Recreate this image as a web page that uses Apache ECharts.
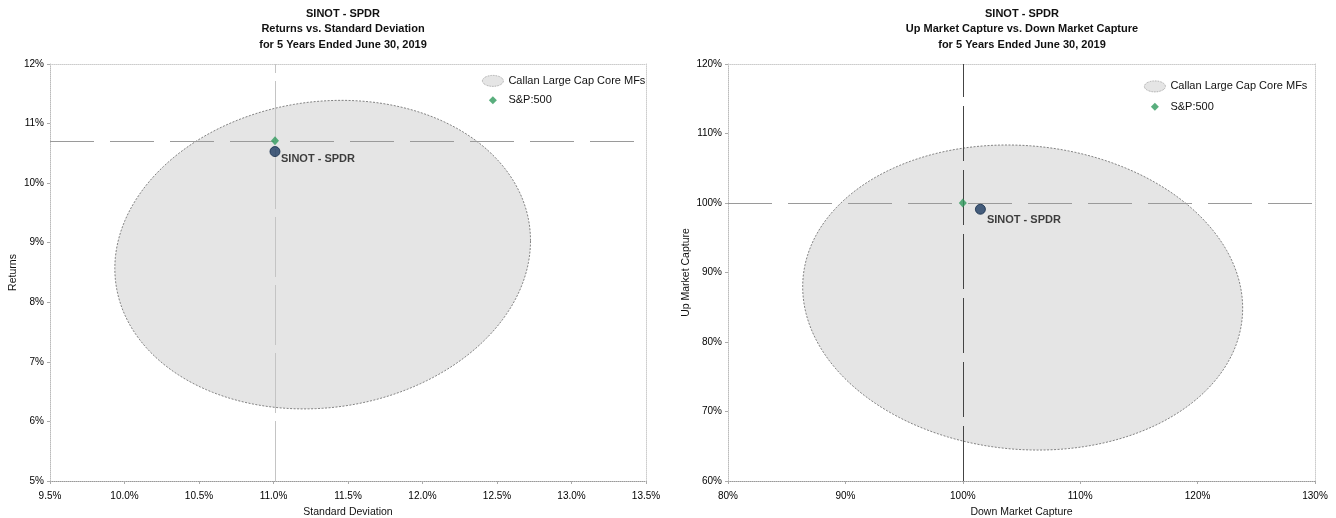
<!DOCTYPE html>
<html>
<head>
<meta charset="utf-8">
<script src="https://cdn.jsdelivr.net/npm/echarts@6/dist/echarts.min.js"></script>
<style>
  html, body { margin: 0; padding: 0; background: #ffffff; }
  #chart { width: 1336px; height: 518px; }
</style>
</head>
<body>
<div id="chart"></div>
<script>
// ---------- Data ----------
const rvsTitle = ['SINOT - SPDR', 'Returns vs. Standard Deviation', 'for 5 Years Ended June 30, 2019'];
const udcTitle = ['SINOT - SPDR', 'Up Market Capture vs. Down Market Capture', 'for 5 Years Ended June 30, 2019'];

// axis ranges: [min, max, interval]
const rvsXAxis = [9.5, 13.5, 0.5];
const rvsYAxis = [5, 12, 1];
const udcXAxis = [80, 130, 10];
const udcYAxis = [60, 120, 10];

const seriesNames = ['Callan Large Cap Core MFs', 'S&P:500', 'SINOT - SPDR'];

// Returns vs Standard Deviation: [std dev, return]
const rvsSP500 = [11.01, 10.71];
const rvsSinot = [11.01, 10.53];
// peer group ellipse: centre, half axes (x, y), tilt (cosine of phase)
const rvsPeerCenter = [11.33, 8.80];
const rvsPeerHalfAxes = [1.395, 2.59];
const rvsPeerTilt = 0.09;

// Up vs Down market capture: [down capture, up capture]
const udcSP500 = [100.0, 100.0];
const udcSinot = [101.5, 99.1];
const udcPeerCenter = [105.1, 86.4];
const udcPeerHalfAxes = [18.74, 21.95];
const udcPeerTilt = -0.07;

// ---------- Styles ----------
const FONT = '"Liberation Sans", Arial, Helvetica, sans-serif';
const GREEN = '#2f9a5c';
const NAVY = '#1b3a60';
const PEER_FILL = '#e5e5e5';

function ellipseItem(params, api) {
  const cx = api.value(0), cy = api.value(1);
  const a = api.value(2), b = api.value(3), c = api.value(4);
  const d = Math.acos(c);
  const pts = [];
  const n = 180;
  for (let i = 0; i < n; i++) {
    const t = i / n * 2 * Math.PI;
    pts.push(api.coord([cx + a * Math.cos(t), cy + b * Math.cos(t - d)]));
  }
  return {
    type: 'polygon',
    shape: { points: pts },
    style: { fill: PEER_FILL, stroke: '#666', lineWidth: 0.8, lineDash: [2, 1.5] }
  };
}

function makeXAxis(range, grid, fmt, name) {
  return {
    type: 'value', gridIndex: grid, min: range[0], max: range[1], interval: range[2],
    name: name, nameLocation: 'middle', nameGap: 26,
    nameTextStyle: { fontFamily: FONT, fontSize: 10.5, color: '#111' },
    axisLine: { show: true, lineStyle: { color: '#999', type: 'dotted', width: 1 } },
    axisTick: { show: true, length: 3, lineStyle: { color: '#aaa' } },
    axisLabel: { fontFamily: FONT, fontSize: 10, color: '#000', margin: 10, formatter: fmt },
    splitLine: { show: false }
  };
}
function makeYAxis(range, grid, fmt, name, gap) {
  return {
    type: 'value', gridIndex: grid, min: range[0], max: range[1], interval: range[2],
    name: name, nameLocation: 'middle', nameGap: gap, nameRotate: 90,
    nameTextStyle: { fontFamily: FONT, fontSize: 10.5, color: '#111' },
    axisLine: { show: true, lineStyle: { color: '#bbb', type: 'dotted', width: 1 } },
    axisTick: { show: true, length: 3, lineStyle: { color: '#aaa' } },
    axisLabel: { fontFamily: FONT, fontSize: 10, color: '#000', margin: 6, formatter: fmt },
    splitLine: { show: false }
  };
}
function frameAxis(range, grid, pos) {
  return {
    type: 'value', gridIndex: grid, min: range[0], max: range[1], position: pos,
    axisLine: { show: true, onZero: false, lineStyle: { color: '#ccc', type: 'dotted', width: 1 } },
    axisTick: { show: false }, axisLabel: { show: false }, splitLine: { show: false }
  };
}

const pctFixed1 = v => v.toFixed(1) + '%';
const pctInt = v => Math.round(v) + '%';

const ellipseIcon = 'path://M0,5.5 A10.5,5.5 0 1 1 21,5.5 A10.5,5.5 0 1 1 0,5.5 Z';
const diamondIcon = 'path://M0,0 M21,11 M10.5,1.5 L14.5,5.5 L10.5,9.5 L6.5,5.5 Z';

function legendFor(left, top, gap) {
  return {
    left: left, top: top, orient: 'vertical', itemWidth: 21, itemHeight: 11, itemGap: gap,
    selectedMode: false, padding: 0,
    textStyle: { fontFamily: FONT, fontSize: 11, color: '#111' },
    data: [
      { name: seriesNames[0], icon: ellipseIcon,
        itemStyle: { color: PEER_FILL, borderColor: '#888', borderWidth: 0.8, borderType: 'dotted' } },
      { name: seriesNames[1], icon: diamondIcon, itemStyle: { color: GREEN, borderWidth: 0 } }
    ]
  };
}

function pointSeries(name, point, xi, yi, opts) {
  return Object.assign({
    name: name, type: 'scatter', xAxisIndex: xi, yAxisIndex: yi,
    data: [point], z: 5
  }, opts);
}

function crossLines(point, hStyle, vStyle) {
  return {
    silent: true, symbol: 'none', label: { show: false }, animation: false,
    data: [
      { yAxis: point[1], lineStyle: hStyle },
      { xAxis: point[0], lineStyle: vStyle }
    ]
  };
}

const option = {
  backgroundColor: '#ffffff',
  animation: false,
  textStyle: { fontFamily: FONT },
  title: [
    { text: rvsTitle.join('\n'), left: 343, top: 6, padding: 0, textAlign: 'center',
      textStyle: { fontFamily: FONT, fontSize: 11, fontWeight: 'bold', color: '#111', lineHeight: 15.5 } },
    { text: udcTitle.join('\n'), left: 1022, top: 6, padding: 0, textAlign: 'center',
      textStyle: { fontFamily: FONT, fontSize: 11, fontWeight: 'bold', color: '#111', lineHeight: 15.5 } }
  ],
  legend: [legendFor(482, 75, 8), legendFor(1144, 80.5, 9)],
  grid: [
    { left: 50, top: 64, width: 596, height: 417, containLabel: false, outerBoundsMode: 'none' },
    { left: 728, top: 64, width: 587, height: 417, containLabel: false, outerBoundsMode: 'none' }
  ],
  xAxis: [
    makeXAxis(rvsXAxis, 0, pctFixed1, 'Standard Deviation'),
    frameAxis(rvsXAxis, 0, 'top'),
    makeXAxis(udcXAxis, 1, pctInt, 'Down Market Capture'),
    frameAxis(udcXAxis, 1, 'top')
  ],
  yAxis: [
    makeYAxis(rvsYAxis, 0, pctInt, 'Returns', 31),
    frameAxis(rvsYAxis, 0, 'right'),
    makeYAxis(udcYAxis, 1, pctInt, 'Up Market Capture', 36),
    frameAxis(udcYAxis, 1, 'right')
  ],
  series: [
    {
      name: seriesNames[0], type: 'custom', xAxisIndex: 0, yAxisIndex: 0,
      renderItem: ellipseItem, clip: true, silent: true, z: 1,
      encode: { x: 0, y: 1 },
      itemStyle: { color: PEER_FILL },
      data: [[rvsPeerCenter[0], rvsPeerCenter[1], rvsPeerHalfAxes[0], rvsPeerHalfAxes[1], rvsPeerTilt]]
    },
    pointSeries(seriesNames[1], rvsSP500, 0, 0, {
      symbol: 'diamond', symbolSize: [8, 9], itemStyle: { color: GREEN },
      markLine: crossLines(rvsSP500,
        { color: '#9a9a9a', type: [44, 16], width: 1 },
        { color: '#c4c4c4', type: [60, 8], width: 1 })
    }),
    pointSeries(seriesNames[2], rvsSinot, 0, 0, {
      symbol: 'circle', symbolSize: 10,
      itemStyle: { color: NAVY, borderColor: '#122a48', borderWidth: 1 },
      label: { show: true, position: 'right', distance: 0.5, offset: [0, 7.5],
        formatter: seriesNames[2], fontFamily: FONT, fontSize: 11, fontWeight: 'bold', color: '#111' }
    }),
    {
      name: seriesNames[0], type: 'custom', xAxisIndex: 2, yAxisIndex: 2,
      renderItem: ellipseItem, clip: true, silent: true, z: 1,
      encode: { x: 0, y: 1 },
      itemStyle: { color: PEER_FILL },
      data: [[udcPeerCenter[0], udcPeerCenter[1], udcPeerHalfAxes[0], udcPeerHalfAxes[1], udcPeerTilt]]
    },
    pointSeries(seriesNames[1], udcSP500, 2, 2, {
      symbol: 'diamond', symbolSize: [8, 9], itemStyle: { color: GREEN },
      markLine: crossLines(udcSP500,
        { color: '#9a9a9a', type: [44, 16], width: 1 },
        { color: '#444444', type: [55, 9], width: 1 })
    }),
    pointSeries(seriesNames[2], udcSinot, 2, 2, {
      symbol: 'circle', symbolSize: 10,
      itemStyle: { color: NAVY, borderColor: '#122a48', borderWidth: 1 },
      label: { show: true, position: 'right', distance: 1, offset: [0, 11],
        formatter: seriesNames[2], fontFamily: FONT, fontSize: 11, fontWeight: 'bold', color: '#111' }
    })
  ]
};

const chart = echarts.init(document.getElementById('chart'), null, { renderer: 'canvas' });
chart.setOption(option);
</script>
</body>
</html>
